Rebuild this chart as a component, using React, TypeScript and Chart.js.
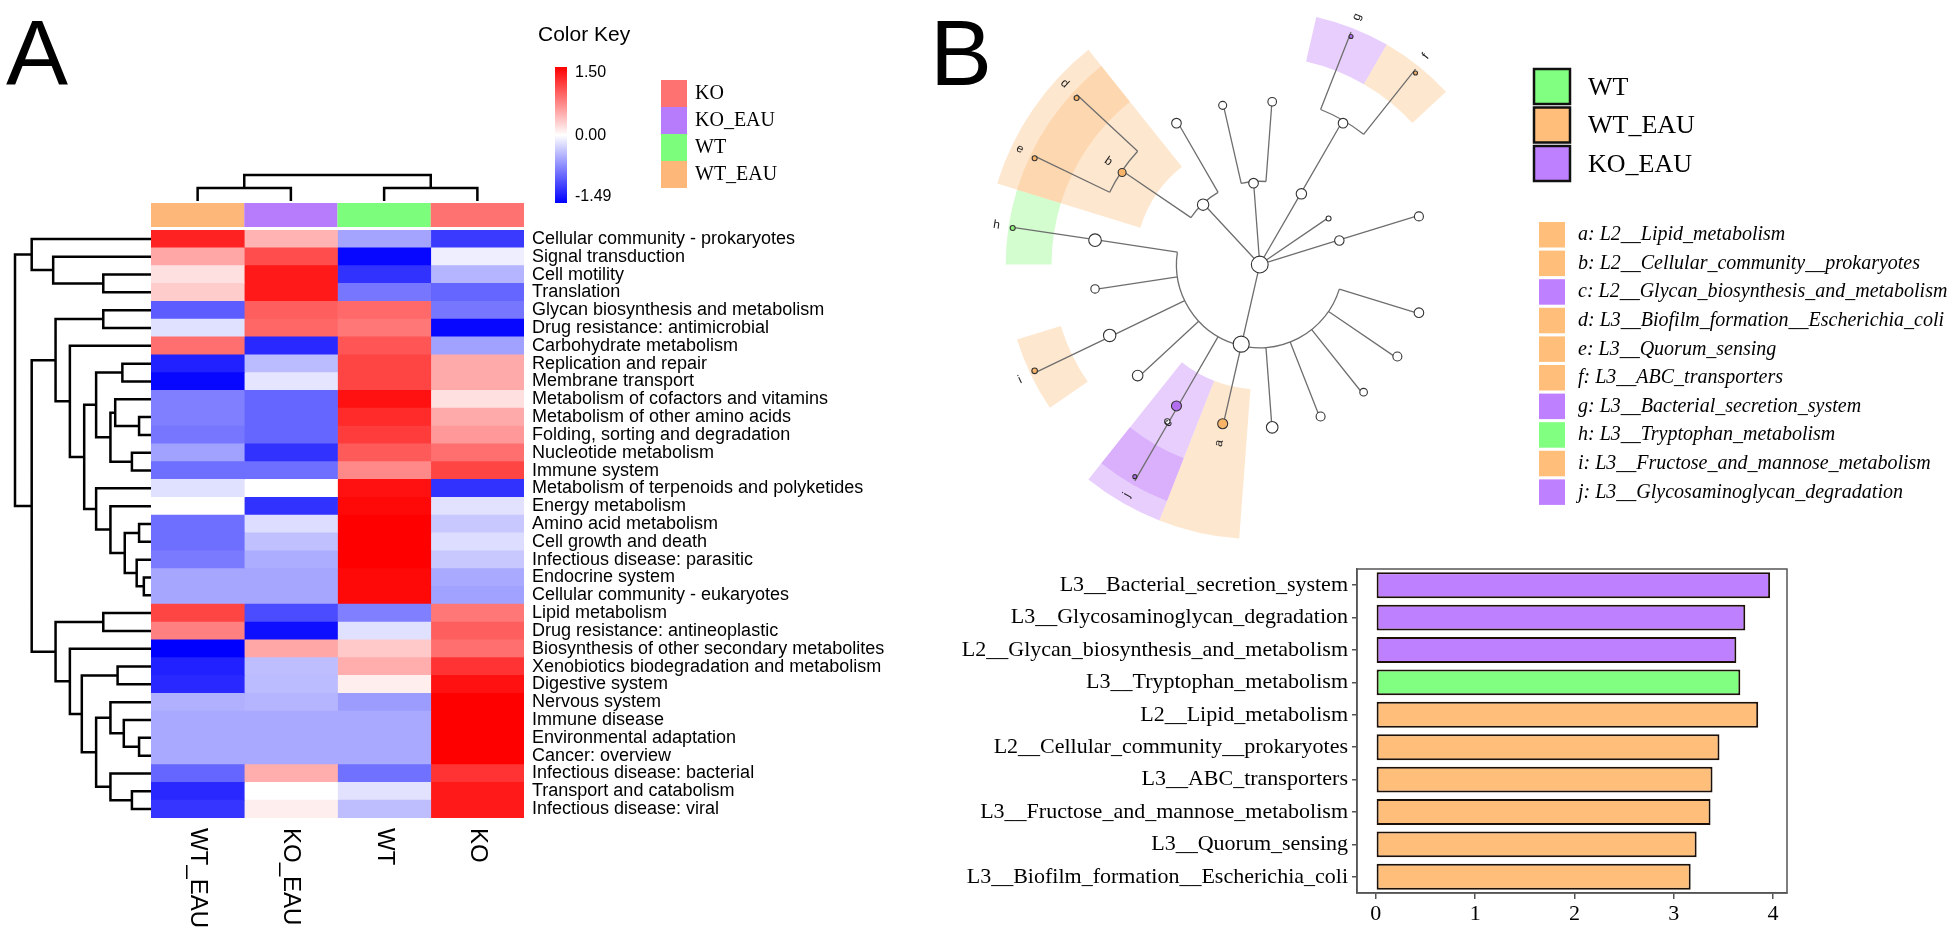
import React, { useEffect, useRef } from 'react';
import { Chart, registerables } from 'chart.js';
Chart.register(...registerables);

const SANS = '"Liberation Sans", Arial, sans-serif';
const SERIF = '"Liberation Serif", "Times New Roman", serif';

// ---------------- Panel A : heatmap ----------------
const rowLabels = [
  'Cellular community - prokaryotes', 'Signal transduction', 'Cell motility', 'Translation',
  'Glycan biosynthesis and metabolism', 'Drug resistance: antimicrobial', 'Carbohydrate metabolism',
  'Replication and repair', 'Membrane transport', 'Metabolism of cofactors and vitamins',
  'Metabolism of other amino acids', 'Folding, sorting and degradation', 'Nucleotide metabolism',
  'Immune system', 'Metabolism of terpenoids and polyketides', 'Energy metabolism', 'Amino acid metabolism',
  'Cell growth and death', 'Infectious disease: parasitic', 'Endocrine system', 'Cellular community - eukaryotes',
  'Lipid metabolism', 'Drug resistance: antineoplastic', 'Biosynthesis of other secondary metabolites',
  'Xenobiotics biodegradation and metabolism', 'Digestive system', 'Nervous system', 'Immune disease',
  'Environmental adaptation', 'Cancer: overview', 'Infectious disease: bacterial', 'Transport and catabolism',
  'Infectious disease: viral',
];
const heatColumns = ['WT_EAU', 'KO_EAU', 'WT', 'KO'];
const zWT_EAU = [1.3, 0.52, 0.18, 0.3, -0.95, -0.18, 0.85, -1.3, -1.45, -0.75, -0.75, -0.8, -0.55, -0.85, -0.18, 0, -0.85, -0.85, -0.78, -0.52, -0.52, 1.1, 0.75, -1.49, -1.3, -1.25, -0.46, -0.5, -0.5, -0.5, -0.9, -1.25, -1.18];
const zKO_EAU = [0.45, 1.05, 1.35, 1.35, 0.95, 0.9, -1.25, -0.4, -0.15, -0.9, -0.9, -0.9, -1.2, -0.85, 0, -1.2, -0.2, -0.37, -0.48, -0.52, -0.52, -1.05, -1.4, 0.52, -0.38, -0.4, -0.44, -0.5, -0.5, -0.5, 0.48, 0, 0.1];
const zWT = [-0.53, -1.45, -1.2, -0.8, 0.88, 0.8, 1.0, 1.1, 1.1, 1.4, 1.25, 1.15, 0.97, 0.7, 1.4, 1.45, 1.5, 1.5, 1.5, 1.45, 1.45, -0.75, -0.18, 0.32, 0.48, 0.1, -0.58, -0.5, -0.5, -0.5, -0.83, -0.17, -0.38];
const zKO = [-1.15, -0.1, -0.43, -0.9, -0.8, -1.45, -0.55, 0.5, 0.5, 0.18, 0.5, 0.6, 0.85, 1.1, -1.2, -0.17, -0.32, -0.2, -0.32, -0.5, -0.55, 0.8, 0.95, 0.85, 1.2, 1.4, 1.5, 1.5, 1.5, 1.5, 1.2, 1.35, 1.35];
const heatValues = [zWT_EAU, zKO_EAU, zWT, zKO];

const keyMin = -1.49;
const keyMax = 1.5;
const keyTickValues = [1.5, 0, -1.49];
const keyTickLabels = ['1.50', '0.00', '-1.49'];

const groupFillA = { KO: '#FF7272', KO_EAU: '#B77CFB', WT: '#7CFD7C', WT_EAU: '#FDB879' };
const legendAGroups = ['KO', 'KO_EAU', 'WT', 'WT_EAU'];

// hclust-style merges: negative = leaf (1-based row), positive = earlier merge; third = height
const rowMerges = [
  [-3, -4, 100], [-2, 1, 205], [-1, 2, 250], [-5, -6, 100], [-8, -9, 60], [-11, -12, 25],
  [-10, 6, 75], [-13, -14, 40], [7, 8, 85], [5, 9, 115], [-17, -18, 25], [-20, -21, 15],
  [-19, 12, 30], [11, 13, 55], [-16, 14, 85], [-15, 15, 115], [10, 16, 140], [-7, 17, 170],
  [4, 18, 200], [-22, -23, 100], [-25, -26, 70], [-29, -30, 25], [-28, 22, 57], [-27, 23, 85],
  [-32, -33, 40], [-31, 25, 85], [24, 26, 115], [21, 27, 145], [-24, 28, 170], [20, 29, 200],
  [19, 30, 250], [3, 31, 285],
];
const colMerges = [[-1, -2, 1], [-3, -4, 1], [1, 2, 2]];

// ---------------- Panel B : LEfSe ----------------
const groupFillB = { WT: '#80FF80', WT_EAU: '#FFBF7A', KO_EAU: '#BF80FF' };
const nodeFillB = { WT: '#8CF07A', WT_EAU: '#F7B469', KO_EAU: '#B36EF0' };
const sectorFillB = { WT: 'rgba(120,245,110,0.33)', WT_EAU: 'rgba(252,183,110,0.33)', KO_EAU: 'rgba(190,120,250,0.36)' };
const legendBGroups = ['WT', 'WT_EAU', 'KO_EAU'];
const biomarkerLetters = ['a', 'b', 'c', 'd', 'e', 'f', 'g', 'h', 'i', 'j'];
const biomarkerNames = [
  'L2__Lipid_metabolism', 'L2__Cellular_community__prokaryotes', 'L2__Glycan_biosynthesis_and_metabolism',
  'L3__Biofilm_formation__Escherichia_coli', 'L3__Quorum_sensing', 'L3__ABC_transporters',
  'L3__Bacterial_secretion_system', 'L3__Tryptophan_metabolism', 'L3__Fructose_and_mannose_metabolism',
  'L3__Glycosaminoglycan_degradation',
];
const biomarkerGroups = ['WT_EAU', 'WT_EAU', 'KO_EAU', 'WT_EAU', 'WT_EAU', 'WT_EAU', 'KO_EAU', 'WT', 'WT_EAU', 'KO_EAU'];

const barLabels = [
  'L3__Bacterial_secretion_system', 'L3__Glycosaminoglycan_degradation', 'L2__Glycan_biosynthesis_and_metabolism',
  'L3__Tryptophan_metabolism', 'L2__Lipid_metabolism', 'L2__Cellular_community__prokaryotes',
  'L3__ABC_transporters', 'L3__Fructose_and_mannose_metabolism', 'L3__Quorum_sensing',
  'L3__Biofilm_formation__Escherichia_coli',
];
const barValues = [3.97, 3.72, 3.63, 3.67, 3.85, 3.46, 3.39, 3.37, 3.23, 3.17];
const barGroups = ['KO_EAU', 'KO_EAU', 'KO_EAU', 'WT', 'WT_EAU', 'WT_EAU', 'WT_EAU', 'WT_EAU', 'WT_EAU', 'WT_EAU'];
const barTicks = [0, 1, 2, 3, 4];

// cladogram tree (slot = angular leaf position, 21 slots round the circle)
const slotCount = 21;
const cladeParent = [-1, 0, 1, 1, 1, 1, 1, 1, 1, 1, 1, 1, 1, 8, 8, 10, 12, 0, 17, 18, 18, 17, 0, 22, 22, 0, 25, 26, 26, 0, 0, 30];
const cladeLevel = [0, 1, 2, 2, 2, 2, 2, 2, 2, 2, 2, 2, 2, 3, 2.22, 3, 3, 1, 2, 3, 3, 2, 1, 2, 2, 1, 2, 3, 3, 1, 1, 2];
const cladeSlot = [-1, -1, 1, 2, 3, 4, 5, 6, -1, 8, -1, 10, -1, 7, 7, 9, 11, -1, -1, 13, 12, 14, -1, 15, 16, -1, -1, 17, 18, 19, -1, 20];
const cladeSize = [8.4, 8, 4.8, 4.5, 3.8, 4.5, 5.8, 5, 5, 5.3, 6.2, 4.2, 6.3, 2, 2.7, 2.8, 2.5, 5.7, 4, 2.5, 2.5, 4.8, 4.8, 4, 4.3, 5.2, 4.8, 2, 2, 2.5, 4.7, 4.5];
const cladeMarker = ['', '', '', '', '', '', '', 'a', 'c', '', '', '', '', 'j', '', 'i', 'h', '', 'b', 'd', 'e', '', '', '', '', '', '', 'g', 'f', '', '', ''];
const levelStep = 84.5;

// ---------- helpers ----------
function heatColor(v) {
  if (v >= 0) {
    const t = Math.min(1, v / keyMax);
    const c = Math.round(255 * (1 - t));
    return `rgb(255,${c},${c})`;
  }
  const t = Math.min(1, v / keyMin);
  const c = Math.round(255 * (1 - t));
  return `rgb(${c},${c},255)`;
}

const cladeChildren = cladeParent.map(() => []);
cladeParent.forEach((p, i) => { if (p >= 0) cladeChildren[p].push(i); });
const cladeAngle = new Array(cladeParent.length).fill(0);
const cladeRange = cladeParent.map(() => [0, 0]);
function computeAngle(i) {
  const ch = cladeChildren[i];
  if (ch.length === 0) {
    cladeAngle[i] = cladeSlot[i];
    cladeRange[i] = [cladeSlot[i], cladeSlot[i]];
    return cladeAngle[i];
  }
  const vals = ch.map(computeAngle);
  cladeAngle[i] = vals.reduce((a, b) => a + b, 0) / vals.length;
  cladeRange[i] = [Math.min(...ch.map((c) => cladeRange[c][0])), Math.max(...ch.map((c) => cladeRange[c][1]))];
  return cladeAngle[i];
}
computeAngle(0);
const slotRad = (s) => (s * 2 * Math.PI) / slotCount;
const groupOfMarker = (m) => biomarkerGroups[biomarkerLetters.indexOf(m)];
const cladePoints = cladeParent.map((_, i) => {
  const r = cladeLevel[i] * levelStep;
  const a = slotRad(cladeAngle[i]);
  return { x: r * Math.cos(a), y: -r * Math.sin(a) };
});

// ---------- plugins ----------
const heatPlugin = {
  id: 'heatDecor',
  afterDraw(chart) {
    const { ctx, chartArea: area } = chart;
    const xs = chart.scales.x;
    const ys = chart.scales.y;
    ctx.save();
    // column annotation bar
    const annTop = area.top - 27;
    heatColumns.forEach((g, c) => {
      const x0 = xs.getPixelForValue(c);
      const x1 = xs.getPixelForValue(c + 1);
      ctx.fillStyle = groupFillA[g];
      ctx.fillRect(x0, annTop, x1 - x0, 24);
    });
    ctx.strokeStyle = '#000';
    ctx.lineWidth = 2.5;
    ctx.lineCap = 'butt';
    ctx.lineJoin = 'miter';
    // column dendrogram
    const leafY = annTop - 2;
    const cpos = [];
    const cget = (id) => (id < 0 ? { x: xs.getPixelForValue(-id - 1 + 0.5), y: leafY } : cpos[id - 1]);
    ctx.beginPath();
    colMerges.forEach(([a, b, h], i) => {
      const pa = cget(a);
      const pb = cget(b);
      const y = leafY - h * 13;
      ctx.moveTo(pa.x, pa.y); ctx.lineTo(pa.x, y); ctx.lineTo(pb.x, y); ctx.lineTo(pb.x, pb.y);
      cpos[i] = { x: (pa.x + pb.x) / 2, y };
    });
    ctx.stroke();
    // row dendrogram
    const k = 136 / 285;
    const rpos = [];
    const rget = (id) => (id < 0 ? { x: area.left, y: ys.getPixelForValue(-id - 1) } : rpos[id - 1]);
    ctx.beginPath();
    rowMerges.forEach(([a, b, h], i) => {
      const pa = rget(a);
      const pb = rget(b);
      const x = area.left - h * k;
      ctx.moveTo(pa.x, pa.y); ctx.lineTo(x, pa.y); ctx.lineTo(x, pb.y); ctx.lineTo(pb.x, pb.y);
      rpos[i] = { x, y: (pa.y + pb.y) / 2 };
    });
    ctx.stroke();
    // column labels (rotated)
    ctx.fillStyle = '#000';
    ctx.font = `24px ${SANS}`;
    ctx.textAlign = 'left';
    ctx.textBaseline = 'middle';
    heatColumns.forEach((g, c) => {
      ctx.save();
      ctx.translate(xs.getPixelForValue(c + 0.5), area.bottom + 10);
      ctx.rotate(Math.PI / 2);
      ctx.fillText(g, 0, 0);
      ctx.restore();
    });
    // color key
    ctx.font = `21px ${SANS}`;
    ctx.textBaseline = 'alphabetic';
    ctx.fillText('Color Key', 538, 41);
    const kTop = 67, kBot = 203;
    const grad = ctx.createLinearGradient(0, kTop, 0, kBot);
    grad.addColorStop(0, heatColor(keyMax));
    grad.addColorStop(keyMax / (keyMax - keyMin), '#ffffff');
    grad.addColorStop(1, heatColor(keyMin));
    ctx.fillStyle = grad;
    ctx.fillRect(555, kTop, 12, kBot - kTop);
    ctx.fillStyle = '#000';
    ctx.font = `16px ${SANS}`;
    ctx.textBaseline = 'middle';
    keyTickValues.forEach((v, i) => {
      const y = 197 - ((v - keyMin) / (keyMax - keyMin)) * 124;
      ctx.fillText(keyTickLabels[i], 575, y);
    });
    // legend
    legendAGroups.forEach((g, i) => {
      const y = 80 + i * 27;
      ctx.fillStyle = groupFillA[g];
      ctx.fillRect(661, y, 26, 27);
      ctx.fillStyle = '#000';
      ctx.font = `20px ${SERIF}`;
      ctx.fillText(g, 695, y + 14);
    });
    // panel letter
    ctx.font = `93px ${SANS}`;
    ctx.textBaseline = 'alphabetic';
    ctx.fillText('A', 6, 85);
    ctx.restore();
  },
};

const CLADO_LEFT = 925;
const cladoPlugin = {
  id: 'cladoDecor',
  beforeDatasetsDraw(chart) {
    const { ctx } = chart;
    const xs = chart.scales.x;
    const ys = chart.scales.y;
    const cx = xs.getPixelForValue(0);
    const cy = ys.getPixelForValue(0);
    const k = xs.getPixelForValue(1) - cx;
    ctx.save();
    // shaded sectors (level-2 first, then level-3)
    const marked = cladeMarker.map((m, i) => i).filter((i) => cladeMarker[i]);
    marked.sort((a, b) => cladeLevel[a] - cladeLevel[b]);
    marked.forEach((i) => {
      const lv = cladeLevel[i];
      const [rin, rout] = lv < 2.5 ? [1.5, 3.3] : [2.5, 3.05];
      const a0 = slotRad(cladeRange[i][0] - 0.5);
      const a1 = slotRad(cladeRange[i][1] + 0.5);
      ctx.beginPath();
      ctx.arc(cx, cy, rout * levelStep * k, a0, a1);
      ctx.arc(cx, cy, rin * levelStep * k, a1, a0, true);
      ctx.closePath();
      ctx.fillStyle = sectorFillB[groupOfMarker(cladeMarker[i])];
      ctx.fill();
    });
    // connectors
    ctx.strokeStyle = '#6e6e6e';
    ctx.lineWidth = 1.3;
    ctx.beginPath();
    cladeChildren.forEach((ch, p) => {
      if (!ch.length) return;
      const rp = cladeLevel[p] * levelStep * k;
      if (rp > 0 && ch.length > 1) {
        const angs = ch.map((c) => slotRad(cladeAngle[c]));
        const amin = Math.min(...angs);
        const amax = Math.max(...angs);
        ctx.moveTo(cx + rp * Math.cos(amin), cy + rp * Math.sin(amin));
        ctx.arc(cx, cy, rp, amin, amax);
      }
      ch.forEach((c) => {
        const a = slotRad(cladeAngle[c]);
        const rc = cladeLevel[c] * levelStep * k;
        ctx.moveTo(cx + rp * Math.cos(a), cy + rp * Math.sin(a));
        ctx.lineTo(cx + rc * Math.cos(a), cy + rc * Math.sin(a));
      });
    });
    ctx.stroke();
    ctx.restore();
  },
  afterDatasetsDraw(chart) {
    const { ctx } = chart;
    const xs = chart.scales.x;
    const ys = chart.scales.y;
    const cx = xs.getPixelForValue(0);
    const cy = ys.getPixelForValue(0);
    const k = xs.getPixelForValue(1) - cx;
    ctx.save();
    ctx.fillStyle = '#222';
    ctx.font = `12px ${SANS}`;
    ctx.textAlign = 'center';
    ctx.textBaseline = 'middle';
    cladeMarker.forEach((m, i) => {
      if (!m) return;
      const r = (cladeLevel[i] < 2.5 ? 186 : 270) * k;
      const aDeg = (cladeAngle[i] * 360) / slotCount;
      const a = (aDeg * Math.PI) / 180;
      const rot = aDeg > 90 && aDeg < 270 ? aDeg - 180 : aDeg;
      ctx.save();
      ctx.translate(cx + r * Math.cos(a), cy + r * Math.sin(a));
      ctx.rotate((rot * Math.PI) / 180);
      ctx.fillText(m, 0, 0);
      ctx.restore();
    });
    ctx.restore();
  },
  afterDraw(chart) {
    const { ctx } = chart;
    const off = CLADO_LEFT;
    ctx.save();
    ctx.fillStyle = '#000';
    ctx.font = `93px ${SANS}`;
    ctx.textBaseline = 'alphabetic';
    ctx.fillText('B', 930 - off, 85);
    // group legend
    legendBGroups.forEach((g, i) => {
      const y = 69 + i * 38.5;
      ctx.fillStyle = groupFillB[g];
      ctx.fillRect(1534 - off, y, 36, 35);
      ctx.strokeStyle = '#111';
      ctx.lineWidth = 2.5;
      ctx.strokeRect(1534 - off, y, 36, 35);
      ctx.fillStyle = '#000';
      ctx.font = `26px ${SERIF}`;
      ctx.textBaseline = 'middle';
      ctx.fillText(g, 1588 - off, y + 19);
    });
    // biomarker legend
    biomarkerLetters.forEach((l, i) => {
      const y = 222 + i * 28.6;
      ctx.fillStyle = groupFillB[biomarkerGroups[i]];
      ctx.fillRect(1539 - off, y, 26, 25.5);
      ctx.fillStyle = '#000';
      ctx.font = `italic 20px ${SERIF}`;
      ctx.textBaseline = 'middle';
      ctx.fillText(`${l}: ${biomarkerNames[i]}`, 1578 - off, y + 13);
    });
    ctx.restore();
  },
};

const framePlugin = {
  id: 'frame',
  afterDraw(chart) {
    const { ctx, chartArea: a } = chart;
    ctx.save();
    ctx.strokeStyle = '#555';
    ctx.lineWidth = 1.5;
    ctx.strokeRect(a.left, a.top, a.right - a.left, a.bottom - a.top);
    ctx.restore();
  },
};

export default function App() {
  const heatRef = useRef(null);
  const cladoRef = useRef(null);
  const barRef = useRef(null);

  useEffect(() => {
    const charts = [];
    charts.push(new Chart(heatRef.current, {
      type: 'bar',
      data: {
        labels: rowLabels,
        datasets: heatColumns.map((col, c) => ({
          label: col,
          data: rowLabels.map(() => [c, c + 1]),
          backgroundColor: heatValues[c].map(heatColor),
          borderWidth: 0,
          barPercentage: 1,
          categoryPercentage: 1,
          grouped: false,
        })),
      },
      options: {
        indexAxis: 'y',
        responsive: false,
        animation: false,
        events: [],
        layout: { padding: { left: 151, top: 230, bottom: 112, right: 0 } },
        plugins: { legend: { display: false }, tooltip: { enabled: false } },
        scales: {
          x: { type: 'linear', min: 0, max: 4, display: false },
          y: {
            type: 'category',
            position: 'right',
            offset: true,
            grid: { display: false, drawTicks: false },
            border: { display: false },
            ticks: { autoSkip: false, color: '#000', font: { family: SANS, size: 18 }, padding: 8 },
            afterFit: (s) => { s.width = 401; },
          },
        },
      },
      plugins: [heatPlugin],
    }));

    charts.push(new Chart(cladoRef.current, {
      type: 'scatter',
      data: {
        datasets: [{
          data: cladePoints,
          pointRadius: cladeSize,
          pointHoverRadius: cladeSize,
          pointBackgroundColor: cladeMarker.map((m) => (m ? nodeFillB[groupOfMarker(m)] : '#ffffff')),
          pointBorderColor: '#333',
          pointBorderWidth: 1.1,
        }],
      },
      options: {
        responsive: false,
        animation: false,
        events: [],
        layout: { padding: { left: 0, top: 0, right: 365, bottom: 0 } },
        plugins: { legend: { display: false }, tooltip: { enabled: false } },
        scales: {
          x: { type: 'linear', min: -330, max: 330, display: false },
          y: { type: 'linear', min: -296, max: 264, display: false },
        },
      },
      plugins: [cladoPlugin],
    }));

    charts.push(new Chart(barRef.current, {
      type: 'bar',
      data: {
        labels: barLabels,
        datasets: [{
          data: barValues,
          backgroundColor: barGroups.map((g) => groupFillB[g]),
          borderColor: '#1c1008',
          borderWidth: 2,
          borderSkipped: false,
          barPercentage: 0.8,
          categoryPercentage: 1,
        }],
      },
      options: {
        indexAxis: 'y',
        responsive: false,
        animation: false,
        events: [],
        layout: { padding: { left: 0, top: 29, right: 163, bottom: 0 } },
        plugins: { legend: { display: false }, tooltip: { enabled: false } },
        scales: {
          x: {
            type: 'linear',
            min: -0.19,
            max: 4.14,
            afterBuildTicks: (s) => { s.ticks = barTicks.map((v) => ({ value: v })); },
            grid: { drawOnChartArea: false, drawTicks: true, tickLength: 6, color: '#555', lineWidth: 1.5 },
            border: { display: true, color: '#555', width: 1.5 },
            ticks: { color: '#000', font: { family: SERIF, size: 22 }, padding: 2, callback: (v) => String(v) },
            afterFit: (s) => { s.height = 39; },
          },
          y: {
            grid: { drawOnChartArea: false, drawTicks: true, tickLength: 5, color: '#555', lineWidth: 1.5, offset: false },
            border: { display: true, color: '#555', width: 1.5 },
            ticks: { color: '#000', font: { family: SERIF, size: 22 }, padding: 4, autoSkip: false },
            afterFit: (s) => { s.width = 417; },
          },
        },
      },
      plugins: [framePlugin],
    }));

    return () => charts.forEach((c) => c.destroy());
  }, []);

  const abs = (left, top, w, h) => ({ position: 'absolute', left, top, width: w, height: h });
  return (
    <div style={{ position: 'absolute', left: 0, top: 0, width: 1950, height: 932, overflow: 'hidden', background: '#fff' }}>
      <canvas ref={heatRef} width={925} height={930} style={abs(0, 0, 925, 930)} />
      <canvas ref={cladoRef} width={1025} height={560} style={abs(925, 0, 1025, 560)} />
      <canvas ref={barRef} width={1010} height={392} style={abs(940, 540, 1010, 392)} />
    </div>
  );
}
